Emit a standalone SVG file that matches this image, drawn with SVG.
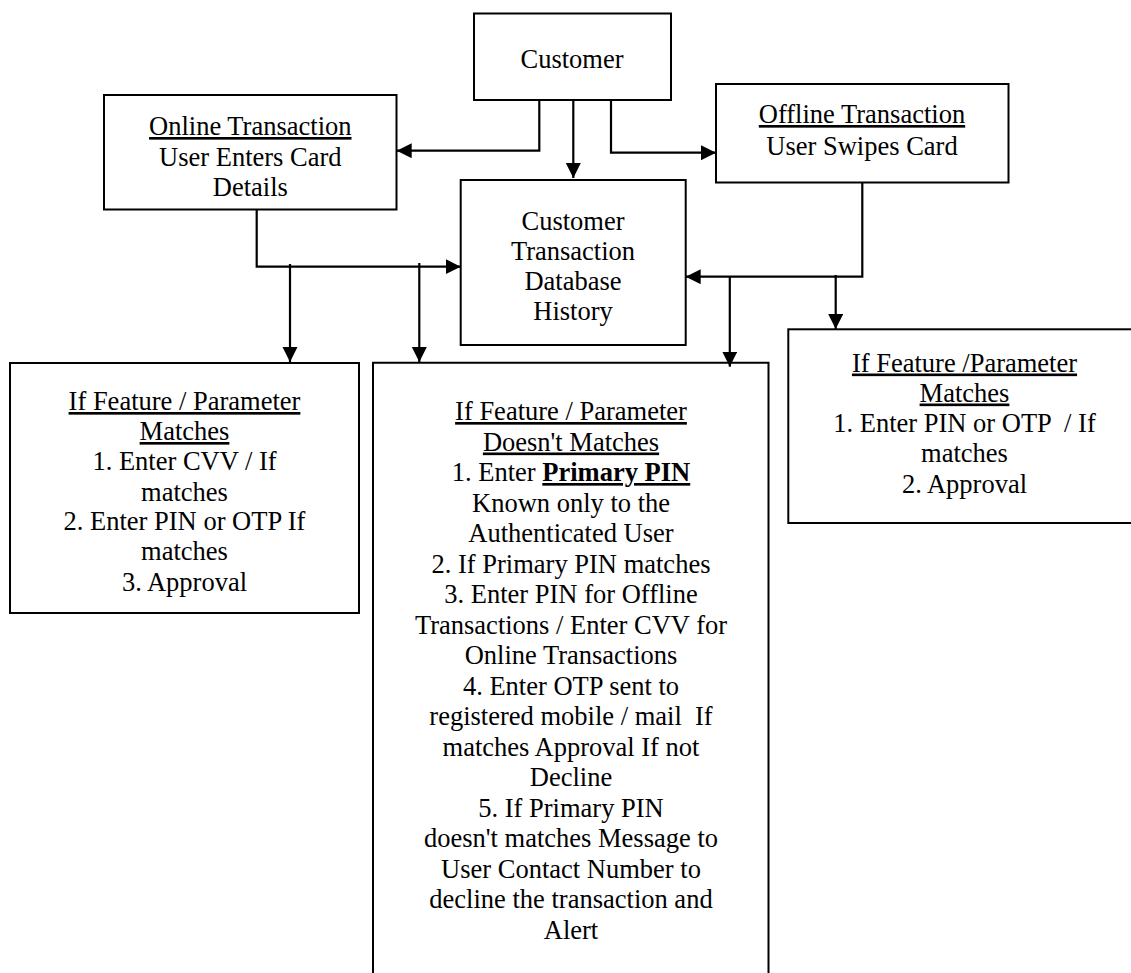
<svg xmlns="http://www.w3.org/2000/svg" width="1131" height="973" viewBox="0 0 1131 973">
<style>
.box{fill:#fff;stroke:#000;stroke-width:2}
.ln{fill:none;stroke:#000;stroke-width:2.2}
text{font-family:"Liberation Serif","Times New Roman",serif;font-size:26.5px;fill:#000;text-anchor:middle}
.u{text-decoration:underline}
.b{font-weight:bold;text-decoration:underline}
</style>
<defs>
<marker id="ah" markerUnits="userSpaceOnUse" markerWidth="16" markerHeight="16" refX="15" refY="7.5" orient="auto">
<path d="M0,0 L15,7.5 L0,15 z" fill="#000"/>
</marker>
</defs>
<rect width="1131" height="973" fill="#fff"/>
<g id="customer">
<rect class="box" x="474" y="13.5" width="197" height="86.5"/>
<text x="572" y="67.5">Customer</text>
</g>
<g id="online">
<rect class="box" x="104" y="95" width="292.5" height="114.5"/>
<text x="250.3" y="135" class="u">Online Transaction</text>
<text x="250.3" y="165.5">User Enters Card</text>
<text x="250.3" y="196">Details</text>
</g>
<g id="offline">
<rect class="box" x="716" y="84" width="292.5" height="98.5"/>
<text x="862" y="123" class="u">Offline Transaction</text>
<text x="862" y="155">User Swipes Card</text>
</g>
<g id="database">
<rect class="box" x="460.7" y="180" width="225" height="165"/>
<text x="573" y="230">Customer</text>
<text x="573" y="260">Transaction</text>
<text x="573" y="290">Database</text>
<text x="573" y="320">History</text>
</g>
<g id="match-online">
<rect class="box" x="10" y="363" width="349" height="250"/>
<text x="184.5" y="410" class="u">If Feature / Parameter</text>
<text x="184.5" y="440" class="u">Matches</text>
<text x="184.5" y="470">1. Enter CVV / If</text>
<text x="184.5" y="500.5">matches</text>
<text x="184.5" y="530">2. Enter PIN or OTP If</text>
<text x="184.5" y="560">matches</text>
<text x="184.5" y="591">3. Approval</text>
</g>
<g id="no-match">
<path class="box" d="M373,985 V362.7 H768.5 V985"/>
<text x="571" y="420" class="u">If Feature / Parameter</text>
<text x="571" y="450.5" class="u">Doesn't Matches</text>
<text x="571" y="481">1. Enter <tspan class="b">Primary PIN</tspan></text>
<text x="571" y="511.5">Known only to the</text>
<text x="571" y="542">Authenticated User</text>
<text x="571" y="572.5">2. If Primary PIN matches</text>
<text x="571" y="603">3. Enter PIN for Offline</text>
<text x="571" y="633.5">Transactions / Enter CVV for</text>
<text x="571" y="664">Online Transactions</text>
<text x="571" y="694.5">4. Enter OTP sent to</text>
<text x="571" y="725" xml:space="preserve">registered mobile / mail  If</text>
<text x="571" y="755.5">matches Approval If not</text>
<text x="571" y="786">Decline</text>
<text x="571" y="816.5">5. If Primary PIN</text>
<text x="571" y="847">doesn't matches Message to</text>
<text x="571" y="877.5">User Contact Number to</text>
<text x="571" y="908">decline the transaction and</text>
<text x="571" y="938.5">Alert</text>
</g>
<g id="match-offline">
<rect class="box" x="788.3" y="329.3" width="352" height="193.7"/>
<text x="964.5" y="371.5" class="u">If Feature /Parameter</text>
<text x="964.5" y="401.5" class="u">Matches</text>
<text x="964.5" y="431.5" xml:space="preserve">1. Enter PIN or OTP  / If</text>
<text x="964.5" y="462">matches</text>
<text x="964.5" y="492.5">2. Approval</text>
</g>
<g id="connectors">
<path class="ln" d="M539.3,100 V150.7 H396.7" marker-end="url(#ah)"/>
<path class="ln" d="M573.3,100 V178" marker-end="url(#ah)"/>
<path class="ln" d="M611,100 V152.7 H716" marker-end="url(#ah)"/>
<path class="ln" d="M256.7,209.5 V266.7 H460.7" marker-end="url(#ah)"/>
<path class="ln" d="M290,264 V362" marker-end="url(#ah)"/>
<path class="ln" d="M419.3,263 V362" marker-end="url(#ah)"/>
<path class="ln" d="M862.3,182.3 V276.7 H685.7" marker-end="url(#ah)"/>
<path class="ln" d="M729.8,276.7 V366.7" marker-end="url(#ah)"/>
<path class="ln" d="M835.7,275 V329" marker-end="url(#ah)"/>
</g>
</svg>
